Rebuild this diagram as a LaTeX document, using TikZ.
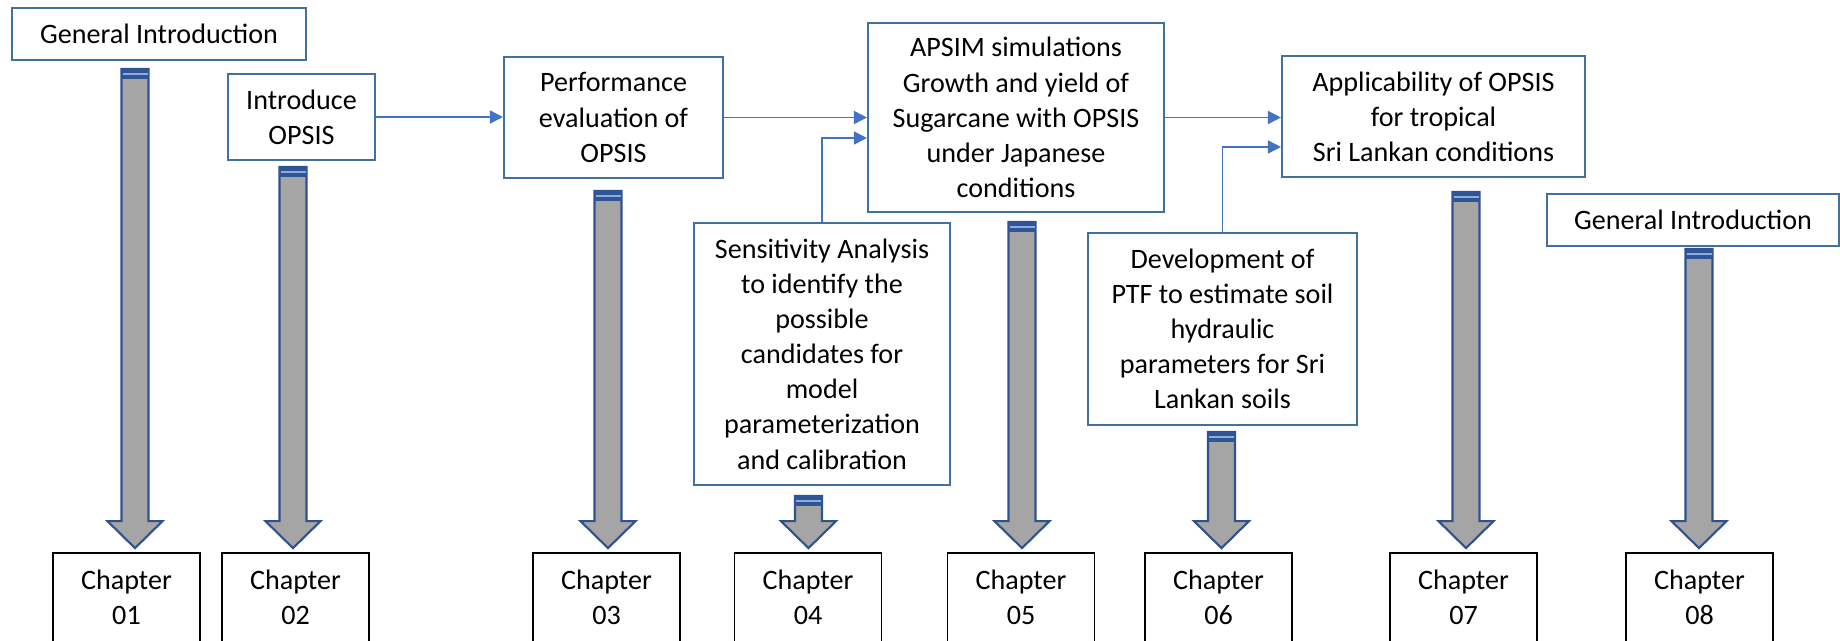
\documentclass[tikz,border=0pt]{standalone}
\usepackage{fontspec}
\setmainfont{Carlito}
\usepackage{xcolor}
\usepackage{tikz}
\usetikzlibrary{arrows.meta, calc}
\definecolor{boxblue}{HTML}{41719C}
\definecolor{lineblue}{HTML}{4472C4}
\definecolor{shaftgray}{HTML}{A5A5A5}
\definecolor{rimblue}{HTML}{2F528F}
\definecolor{capblue}{HTML}{2F5597}
\definecolor{caplight}{HTML}{8FAADC}

% fat grey arrow from a top point down to a chapter box
\newcommand{\chaparrow}[2]{%
  \coordinate (tip) at ($(#1 |- #2.north)+(0,-4)$);
  \draw[fatarrow] ($(#1)+(-13.5,0)$) -- ($(tip)+(-13.5,-27)$) -- ($(tip)+(-27.5,-27)$) -- (tip)
    -- ($(tip)+(27.5,-27)$) -- ($(tip)+(13.5,-27)$) -- ($(#1)+(13.5,0)$) -- cycle;
  \fill[capblue] ($(#1)+(-14.3,0)$) rectangle ($(#1)+(14.3,10)$);
  \draw[caplight, line width=0.4pt] ($(#1)+(-12.5,5)$) -- ($(#1)+(12.5,5)$);
}

\begin{document}
\begin{tikzpicture}[x=0.1mm, y=-0.1mm,
	txt/.style={font=\fontsize{8pt}{10pt}\selectfont, align=center, inner sep=0pt},
	box/.style={txt, draw=boxblue, line width=0.6pt, fill=white},
	chapbox/.style={txt, draw=black, line width=0.5pt, fill=white, minimum width=14.7mm, minimum height=8.9mm},
	fatarrow/.style={fill=shaftgray, draw=rimblue, line width=0.6pt, line join=miter},
	link/.style={draw=lineblue, line width=0.45pt, -{Triangle[length=1.3mm, width=1.3mm]}}]
	\useasboundingbox (0,0) rectangle (1840,640);
	\clip (0,0) rectangle (1840,640);
	% Boxes, links and chapter arrows:
	\node[box, minimum width=29.4mm, minimum height=5.2mm] (intro1) at (159,34) {General Introduction};
	\node[box, minimum width=14.7mm, minimum height=8.6mm] (opsis) at (301.5,117) {Introduce\\OPSIS};
	\node[box, minimum width=21.9mm, minimum height=12.1mm] (perf) at (613.5,117.5) {Performance\\evaluation of\\OPSIS};
	\node[box, minimum width=29.6mm, minimum height=18.9mm] (apsim) at (1016,117.5) {APSIM simulations\\Growth and yield of\\Sugarcane with OPSIS\\under Japanese\\conditions};
	\node[box, minimum width=25.6mm, minimum height=26.2mm] (sens) at (822,354) {Sensitivity Analysis\\to identify the\\possible\\candidates for\\model\\parameterization\\and calibration};
	\node[box, minimum width=30.3mm, minimum height=12.1mm] (appl) at (1433.5,116.5) {Applicability of OPSIS\\for tropical\\Sri Lankan conditions};
	\node[box, minimum width=26.9mm, minimum height=19.2mm] (ptf) at (1222.5,329) {Development of\\PTF to estimate soil\\hydraulic\\parameters for Sri\\Lankan soils};
	\node[box, minimum width=29.2mm, minimum height=5.2mm] (intro2) at (1693,220) {General Introduction};
	\draw[link] (opsis.east) -- (opsis.east -| perf.west);
	\draw[link] (perf.east) -- (perf.east -| apsim.west);
	\draw[link] (sens.north) |- ($(apsim.west)+(0,20.5)$);
	\draw[link] (apsim.east) -- (apsim.east -| appl.west);
	\draw[link] (ptf.north) |- ($(appl.west)+(0,30.5)$);
	\foreach \n/\cx/\ax/\ay in {01/126.5/135/69, 02/295.5/293/167, 03/606.5/608/191, 04/808/808.5/496,
		05/1021/1022/222, 06/1218.5/1221.5/432, 07/1463.5/1466/192, 08/1699.5/1699/249}{
		\node[chapbox] (c\n) at (\cx,597.5) {Chapter\\\n};
		\coordinate (a\n) at (\ax,\ay);
		\chaparrow{a\n}{c\n}
	}
\end{tikzpicture}
\end{document}
